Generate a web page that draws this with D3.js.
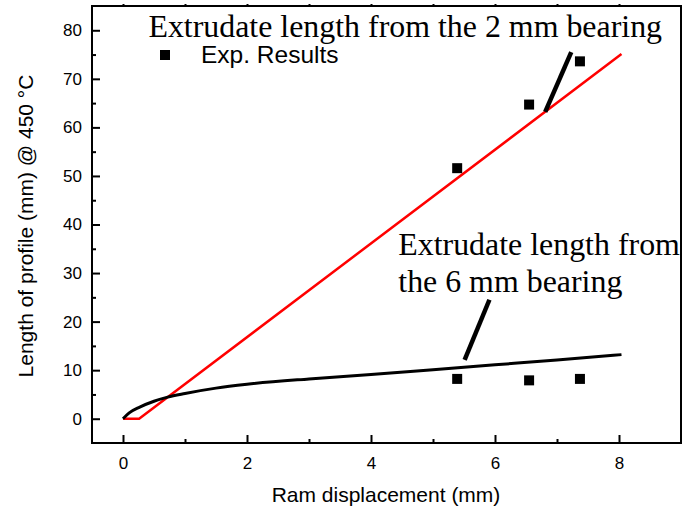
<!DOCTYPE html>
<html>
<head>
<meta charset="utf-8">
<script src="https://cdn.jsdelivr.net/npm/d3@7"></script>
<style>
  body { margin: 0; background: #fff; }
  svg { display: block; }
</style>
</head>
<body>
<svg id="chart" width="683" height="512"></svg>
<script>
'use strict';

// Exp. results (squares)
var expX = [5.39, 6.55, 7.37, 5.39, 6.55, 7.37];
var expY = [51.6, 64.7, 73.6, 8.2, 7.9, 8.2];

// model for the 2 mm bearing (red)
var redX = [0, 0.26, 8.04];
var redY = [0, 0, 75.1];

// model for the 6 mm bearing (black)
var blackX = [0, 0.1, 0.27, 0.5, 0.72, 1, 1.5, 2, 3, 4, 5, 6, 7, 8.04];
var blackY = [0, 1.2, 2.4, 3.6, 4.45, 5.2, 6.3, 7.1, 8.2, 9.1, 10.1, 11.1, 12.1, 13.2];

var xTicks = [0, 2, 4, 6, 8];
var xMinor = [1, 3, 5, 7];
var yTicks = [0, 10, 20, 30, 40, 50, 60, 70, 80];
var yMinor = [5, 15, 25, 35, 45, 55, 65, 75];

var pLeft = 92, pTop = 6, pRight = 681, pBottom = 443;

var svg = d3.select('#chart');
var x = d3.scaleLinear().domain([-0.5, 9]).range([pLeft, pRight]);
var y = d3.scaleLinear().domain([-5, 85]).range([pBottom, pTop]);

var sans = 'Arial, "Liberation Sans", sans-serif';
var serif = '"Times New Roman", "Liberation Serif", serif';

// axes with inward ticks
var gx = svg.append('g').attr('transform', 'translate(0,' + pBottom + ')')
  .call(d3.axisBottom(x).tickValues(xTicks).tickSize(-8).tickPadding(14).tickFormat(d3.format('d')));
var gxm = svg.append('g').attr('transform', 'translate(0,' + pBottom + ')')
  .call(d3.axisBottom(x).tickValues(xMinor).tickSize(-4).tickFormat(''));
var gy = svg.append('g').attr('transform', 'translate(' + pLeft + ',0)')
  .call(d3.axisLeft(y).tickValues(yTicks).tickSize(-8).tickPadding(10).tickFormat(d3.format('d')));
var gym = svg.append('g').attr('transform', 'translate(' + pLeft + ',0)')
  .call(d3.axisLeft(y).tickValues(yMinor).tickSize(-4).tickFormat(''));
var gt = svg.append('g').attr('transform', 'translate(0,' + pTop + ')')
  .call(d3.axisTop(x).tickValues(xTicks.concat(xMinor)).tickSize(2).tickFormat(''));

[gx, gxm, gy, gym, gt].forEach(function(g) {
  g.select('.domain').remove();
  g.selectAll('line').attr('stroke', '#000').attr('stroke-width', 2);
  g.selectAll('text').attr('fill', '#000').style('font-family', sans).style('font-size', '17px');
});

// frame
svg.append('rect')
  .attr('x', pLeft).attr('y', pTop)
  .attr('width', pRight - pLeft).attr('height', pBottom - pTop)
  .attr('fill', 'none').attr('stroke', '#000').attr('stroke-width', 2);

// axis titles
svg.append('text')
  .attr('x', (pLeft + pRight) / 2 - 0.5).attr('y', 502)
  .attr('text-anchor', 'middle')
  .style('font-family', sans).style('font-size', '21px')
  .text('Ram displacement (mm)');

svg.append('text')
  .attr('transform', 'translate(33,' + 226 + ') rotate(-90)')
  .attr('text-anchor', 'middle')
  .style('font-family', sans).style('font-size', '21px')
  .text('Length of profile (mm) @ 450 \u00B0C');

var line = d3.line().x(function(d) { return x(d[0]); }).y(function(d) { return y(d[1]); });

svg.append('path')
  .datum(redX.map(function(v, i) { return [v, redY[i]]; }))
  .attr('d', line)
  .attr('fill', 'none').attr('stroke', '#ff0000').attr('stroke-width', 2.5);

svg.append('path')
  .datum(blackX.map(function(v, i) { return [v, blackY[i]]; }))
  .attr('d', line.curve(d3.curveMonotoneX))
  .attr('fill', 'none').attr('stroke', '#000').attr('stroke-width', 3);

// exp. squares
svg.selectAll('rect.exp')
  .data(expX.map(function(v, i) { return [v, expY[i]]; }))
  .enter().append('rect')
  .attr('class', 'exp')
  .attr('x', function(d) { return x(d[0]) - 5; })
  .attr('y', function(d) { return y(d[1]) - 5; })
  .attr('width', 10).attr('height', 10)
  .attr('fill', '#000');

// legend
svg.append('rect').attr('x', 160).attr('y', 50).attr('width', 10).attr('height', 10).attr('fill', '#000');
svg.append('text').attr('x', 201).attr('y', 63)
  .style('font-family', sans).style('font-size', '24.5px')
  .text('Exp. Results');

// annotation pointers
var pointers = [
  [[6.81, 63.2], [7.23, 75.5]],
  [[5.51, 12.1], [5.91, 24.5]]
];
svg.selectAll('path.ptr')
  .data(pointers)
  .enter().append('path')
  .attr('class', 'ptr')
  .attr('d', d3.line().x(function(d) { return x(d[0]); }).y(function(d) { return y(d[1]); }))
  .attr('stroke', '#000').attr('stroke-width', 4.5).attr('fill', 'none');

// annotation texts
var notes = [
  { t: 'Extrudate length from the 2 mm bearing', x: 0.41, y: 78.6 },
  { t: 'Extrudate length from', x: 4.44, y: 33.7 },
  { t: 'the 6 mm bearing', x: 4.44, y: 26.1 }
];
svg.selectAll('text.note')
  .data(notes)
  .enter().append('text')
  .attr('class', 'note')
  .attr('x', function(d) { return x(d.x); })
  .attr('y', function(d) { return y(d.y); })
  .style('font-family', serif).style('font-size', '31.9px')
  .text(function(d) { return d.t; });
</script>
</body>
</html>
